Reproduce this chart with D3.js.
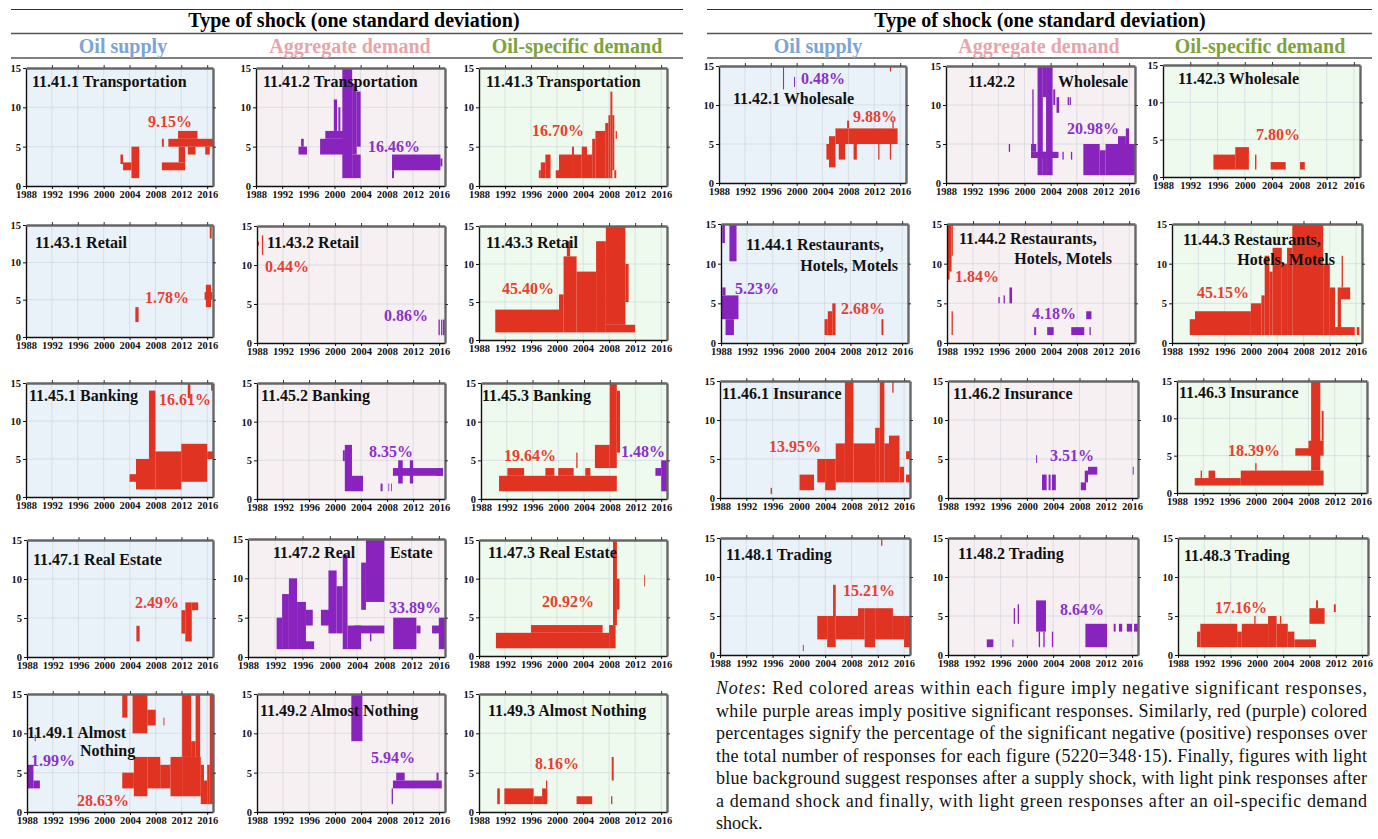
<!DOCTYPE html>
<html>
<head>
<meta charset="utf-8">
<script src="https://cdnjs.cloudflare.com/ajax/libs/d3/7.8.5/d3.min.js"></script>
<style>
  body { margin: 0; background: #fff; }
  svg { display: block; font-family: "Liberation Serif", "Times New Roman", serif; }
  .tick text { font-size: 10.5px; font-weight: bold; fill: #111; font-family: "Liberation Serif", serif; }
</style>
</head>
<body>
<svg id="chart" width="1378" height="839"></svg>
<script>
// ---- data ----
const xTicks = [1988, 1992, 1996, 2000, 2004, 2008, 2012, 2016];
const yTicks = [0, 5, 10, 15];
const shockNames = ["Oil supply", "Aggregate demand", "Oil-specific demand"];
const headerText = "Type of shock (one standard deviation)";

const panelIds = ["41.1","41.2","41.3","42.1","42.2","42.3","43.1","43.2","43.3",
                  "44.1","44.2","44.3","45.1","45.2","45.3","46.1","46.2","46.3",
                  "47.1","47.2","47.3","48.1","48.2","48.3","49.1","49.2","49.3"];
// share of significant negative / positive responses (null = no label)
const negPct = ["9.15%",null,"16.70%","9.88%",null,"7.80%","1.78%","0.44%","45.40%",
                "2.68%","1.84%","45.15%","16.61%",null,"19.64%","13.95%",null,"18.39%",
                "2.49%",null,"20.92%","15.21%",null,"17.16%","28.63%",null,"8.16%"];
const posPct = [null,"16.46%",null,"0.48%","20.98%",null,null,"0.86%",null,
                "5.23%","4.18%",null,null,"8.35%","1.48%",null,"3.51%",null,
                null,"33.89%",null,null,"8.64%",null,"1.99%","5.94%",null];

// significant areas: [fromYear, toYear, fromHorizon, toHorizon]
const neg41_1 = [[2002.6,2003.0,2.8,4],[2003.0,2004.3,2,3],[2004.3,2005.5,1,5],[2009.0,2009.3,5,6],[2009.0,2012.6,2,3],
                 [2010.0,2016.9,5,6],[2011.5,2014.5,6,7],[2011.6,2012.6,3,5],[2013.0,2014.2,4,5],[2015.7,2016.4,4,5]];
const pos41_2 = [[1994.5,1995.8,4,5],[1994.9,1995.3,5,6],[1997.8,2001.3,4,6],[1998.6,2001.3,6,7],[1999.9,2000.4,7,11],
                 [2000.6,2000.9,7,10],[2001.2,2002.7,1,15],[2002.7,2003.4,4,13],[2002.7,2004.0,1,4],[2003.4,2004.0,5,12],
                 [2008.8,2016.2,2,4],[2008.8,2009.1,1,2],[2016.2,2016.5,2.5,3.5]];
const neg41_3 = [[1997.2,1997.5,1,2],[1997.5,1998.2,1,3],[1998.2,1999.0,1,4],[1999.8,2000.3,1,2],[2000.3,2002.3,1,4],
                 [2002.3,2002.6,1,5],[2002.6,2003.8,1,4],[2003.8,2004.6,1,5],[2004.6,2005.4,1,4],[2005.4,2005.9,1,6],
                 [2005.9,2007.4,1,7],[2007.4,2007.9,1,8],[2007.9,2008.2,1,9],[2008.2,2008.5,1,12],[2008.5,2008.8,2,9],
                 [2008.8,2009.1,1,2],[2009.0,2009.2,6,7]];
const pos42_1 = [[1997.9,1998.05,12,15],[1999.6,1999.75,12.3,13.6]];
const neg42_1 = [[2014.4,2014.6,14.3,15],[2004.6,2005.0,3,5],[2005.0,2006.0,2,6],[2006.0,2008.0,5,7],[2006.5,2007.5,3,5],
                 [2007.8,2008.1,7,8],[2008.0,2015.6,5,7],[2008.8,2009.3,3,5],[2012.6,2012.8,3,5],[2014.4,2014.6,3,5],
                 [2014.8,2015.0,7,8]];
const pos42_2 = [[1997.6,1997.8,4,5],[2001.0,2001.8,4,5],[2001.2,2001.4,5,12],[2001.0,2005.2,3.2,4],[2002.0,2002.8,1,15],
                 [2002.8,2003.3,11,15],[2002.8,2003.3,1,4],[2003.3,2004.3,1,15],[2004.4,2004.7,10,12],[2004.9,2005.3,9,11],
                 [2005.8,2006.0,3,4],[2006.6,2006.8,10,11],[2006.9,2007.1,10,11],[2007.1,2007.3,3,4],[2009.0,2011.5,1,5],
                 [2011.5,2012.4,1,4.2],[2012.4,2016.9,1,5],[2014.3,2015.5,5,6],[2015.5,2016.0,5,7]];
const neg42_3 = [[1995.4,1998.6,1,3],[1998.6,2000.6,1,4],[2001.5,2001.7,1,3],[2003.8,2006.0,1,2],[2008.1,2008.8,1,2]];
const neg43_1 = [[2004.9,2005.4,2,4],[2015.8,2016.6,4,7],[2015.6,2016.8,5,6],[2016.4,2016.7,13.2,14.8]];
const neg43_2 = [[1988.15,1988.3,12.5,13],[1988.75,1988.95,11.3,13.8]];
const pos43_2 = [[2015.9,2016.1,1,3],[2016.3,2016.5,1,3],[2016.6,2016.75,1,3],[2016.8,2016.95,1,3]];
const neg43_3 = [[1990.5,2000.3,1,4],[2000.3,2001.0,1,6],[2001.0,2003.0,1,11],[2001.5,2002.0,11,13],[2003.0,2006.0,1,9],
                 [2006.0,2007.5,1,13],[2007.5,2010.5,2,15],[2007.5,2012.0,1,2],[2010.5,2011.0,5,10]];
const pos44_1 = [[1988.2,1988.6,12.6,15],[1989.3,1990.4,10.3,15],[1988.0,1990.7,3,6],[1988.2,1988.7,6,7],[1988.7,1990.0,1,3]];
const neg44_1 = [[2004.0,2004.5,1,3],[2004.5,2005.2,1,4],[2005.2,2005.7,1,5],[2012.8,2013.1,1,3]];
const neg44_2 = [[1988.0,1988.7,9,15],[1988.1,1988.4,8,9],[1988.7,1988.9,11,15],[1988.7,1988.9,1,4]];
const pos44_2 = [[1995.9,1996.1,5,5.8],[1996.7,1996.9,5,6],[1997.6,1998.0,5,7],[2001.4,2001.7,1,2],[2003.4,2004.4,1,2],
                 [2007.1,2009.1,1,2],[2009.4,2010.2,3,4],[2009.9,2010.1,1,2]];
const neg44_3 = [[1990.7,1991.5,1,3],[1991.5,2000.0,1,4],[2000.0,2001.6,1,5],[2001.6,2002.1,1,6],[2002.1,2002.8,1,11],
                 [2002.8,2003.3,1,9],[2003.3,2004.7,1,12],[2004.7,2005.5,1,10],[2005.5,2006.3,1,12],[2006.3,2011.0,1,15],
                 [2011.0,2012.0,1,10],[2012.0,2012.8,1,7],[2013.2,2013.7,1,7],[2013.7,2015.1,5.5,7],[2012.8,2015.8,1,2],
                 [2013.8,2014.0,7,11],[2016.1,2016.5,1,2]];
const neg45_1 = [[2004.0,2005.0,2,3],[2005.0,2008.0,1,5],[2007.0,2008.0,5,14],[2008.0,2012.0,1,6],[2012.0,2016.0,2,7],
                 [2013.0,2013.4,13,15],[2016.0,2016.9,5,6],[2016.6,2016.9,14,15]];
const pos45_2 = [[2001.2,2001.5,4.9,6.3],[2001.5,2002.6,1,7],[2002.6,2004.3,1,3],[2007.0,2007.3,1,2],[2008.2,2008.3,1,2],
                 [2008.6,2008.7,1,2],[2008.9,2016.6,3,4],[2009.7,2010.4,2,5],[2011.5,2012.0,2,5],[2015.6,2016.6,3,4]];
const neg45_3 = [[1990.8,2009.1,1,3],[1992.1,1994.7,3,4],[1998.0,1999.4,3,4],[2000.0,2002.4,3,4],[2002.8,2003.0,4,6],
                 [2004.2,2005.0,3,4],[2005.7,2008.0,4,7],[2008.0,2009.1,4,15],[2009.1,2009.6,6,14]];
const pos45_3 = [[2015.1,2016.0,3,4],[2016.0,2016.9,1,5]];
const neg46_1 = [[1995.7,1995.9,0.5,1.3],[2000.1,2002.3,1,3],[2002.8,2004.0,2,5],[2004.0,2005.6,1,5],[2005.6,2007.0,2,7],
                 [2007.0,2008.3,2,15],[2008.3,2011.6,2,7],[2011.6,2012.3,2,9],[2012.3,2013.0,2,15],[2013.0,2013.7,2,7],
                 [2013.7,2015.3,2,8],[2014.2,2014.4,13.5,15],[2015.3,2016.0,2,4],[2016.3,2016.9,5,6],[2016.3,2016.9,2,3]];
const pos46_2 = [[2001.4,2001.55,4.5,5.5],[2002.3,2003.0,1,3],[2003.3,2003.6,1,3],[2003.8,2004.4,1,3],[2008.2,2009.0,1,2],
                 [2008.8,2009.3,2,3.5],[2009.3,2010.7,3,4],[2016.1,2016.25,3,4]];
const neg46_3 = [[1990.7,1997.7,1,2],[1991.6,1991.8,2,3],[1992.8,1993.8,2,3],[1997.7,2010.3,1,3],[1999.9,2000.1,3,4],
                 [2006.0,2008.3,5,6],[2008.0,2010.3,5,7],[2008.4,2009.8,3,15],[2010.0,2010.3,7,11]];
const neg47_1 = [[2005.0,2005.5,2,4],[2012.0,2012.6,3,6],[2012.6,2013.6,2,7],[2013.6,2014.6,6,7]];
const pos47_2 = [[1992.2,1993.0,1,5],[1993.0,1994.0,1,8],[1994.0,1995.2,1,10],[1995.2,1996.5,1.8,7],[1995.2,1997.7,1,2],
                 [1996.5,1997.5,4,6],[1998.7,2000.0,4,6],[1999.8,2001.0,3,11],[2001.0,2001.9,3,9],[2001.9,2002.6,1,13],
                 [2002.6,2004.6,1,4],[2003.6,2008.0,3,4],[2004.6,2005.3,6,12],[2005.3,2008.0,7,15],[2005.9,2006.1,2,3],
                 [2009.3,2012.7,1,5],[2012.7,2013.3,3,4],[2015.0,2016.9,3,4],[2016.0,2016.9,1,5]];
const neg47_3 = [[1990.6,2008.0,1,3],[1996.0,2007.0,3,4],[2008.0,2009.0,1,4],[2008.6,2009.2,4,15],[2009.2,2009.6,6,10],
                 [2013.4,2013.5,9,10.5]];
const neg48_1 = [[2000.6,2000.75,0.5,1.3],[2002.8,2004.3,2,5],[2004.3,2005.6,1,5],[2005.2,2005.6,5,9],[2005.6,2009.0,2,5],
                 [2009.0,2010.0,2,6],[2010.0,2011.6,1,6],[2011.6,2014.3,2,6],[2014.3,2016.0,2,5],[2016.0,2016.9,1,5],
                 [2012.5,2012.7,14,15]];
const pos48_2 = [[1993.9,1994.9,1,2],[1997.8,1997.95,1,2],[1998.0,1998.2,4,6],[1998.6,1998.8,4,6.5],[2001.4,2002.9,3,7],
                 [2001.8,2002.0,1,3],[2002.5,2002.7,1,3],[2003.8,2004.0,1,3],[2008.9,2012.2,1,4],[2013.2,2013.5,3,4],
                 [2014.0,2014.5,3,4],[2015.2,2016.0,3,4],[2016.3,2016.9,3,4]];
const neg48_3 = [[1990.9,1991.4,1,3],[1991.4,1997.0,1,4],[1997.0,1997.7,1,3],[1997.7,2001.7,1,4],[1999.6,1999.8,4,5],
                 [2001.7,2003.0,1,5],[2003.0,2004.7,1,4],[2003.5,2003.7,4,5],[2004.7,2005.7,1,3],[2005.7,2009.0,1,2],
                 [2008.0,2010.3,4,6],[2009.0,2009.3,6,7],[2011.7,2012.0,5.5,6.5]];
const pos49_1 = [[1988.0,1989.0,3,6],[1989.0,1990.0,3,4],[1989.2,1989.35,9,9.8]];
const neg49_1 = [[2002.8,2004.6,3,5],[2002.8,2003.6,12,15],[2004.4,2006.7,10,15],[2004.6,2006.7,2,7],[2006.7,2008.0,11,13],
                 [2006.7,2008.7,3,7],[2008.7,2010.3,3,6],[2009.2,2009.35,11,12],[2010.3,2012.1,2,7],[2012.1,2015.0,2,7],
                 [2012.1,2013.5,7,15],[2013.5,2014.2,7,9],[2014.2,2014.9,7,15],[2015.0,2015.5,1,6],[2015.5,2016.0,1,4],
                 [2016.0,2016.4,1,6],[2016.4,2016.9,1,15]];
const pos49_2 = [[2002.5,2004.2,9,15],[2008.7,2008.9,1,3],[2008.9,2016.4,3,4],[2009.4,2010.7,4,5],[2015.6,2015.9,4,5]];
const neg49_3 = [[1990.8,1991.2,1,3],[1991.9,1996.4,1,3],[1996.4,1997.7,1,2],[1997.7,1998.5,1,3],[1998.3,1998.5,3,4],
                 [2003.0,2005.4,1,2],[2008.3,2008.5,1,2],[2008.4,2008.7,4,7]];

const areas = {
  "41.1": [neg41_1, []], "41.2": [[], pos41_2], "41.3": [neg41_3, []],
  "42.1": [neg42_1, pos42_1], "42.2": [[], pos42_2], "42.3": [neg42_3, []],
  "43.1": [neg43_1, []], "43.2": [neg43_2, pos43_2], "43.3": [neg43_3, []],
  "44.1": [neg44_1, pos44_1], "44.2": [neg44_2, pos44_2], "44.3": [neg44_3, []],
  "45.1": [neg45_1, []], "45.2": [[], pos45_2], "45.3": [neg45_3, pos45_3],
  "46.1": [neg46_1, []], "46.2": [[], pos46_2], "46.3": [neg46_3, []],
  "47.1": [neg47_1, []], "47.2": [[], pos47_2], "47.3": [neg47_3, []],
  "48.1": [neg48_1, []], "48.2": [[], pos48_2], "48.3": [neg48_3, []],
  "49.1": [neg49_1, pos49_1], "49.2": [[], pos49_2], "49.3": [neg49_3, []]
};

const notesLines = [
  "Red colored areas within each figure imply negative significant responses,",
  "while purple areas imply positive significant responses. Similarly, red (purple) colored",
  "percentages signify the percentage of the significant negative (positive) responses over",
  "the total number of responses for each figure (5220=348\u00b715). Finally, figures with light",
  "blue background suggest responses after a supply shock, with light pink responses after",
  "a demand shock and finally, with light green responses after an oil-specific demand",
  "shock."
];

// ---- layout ----
const shockColors = ["#7ba4d8", "#e7a5aa", "#7ea33d"];
const panelBg = ["#e9f1f9", "#f6f0f2", "#eefaee"];
const negColor = "#e13322", posColor = "#8824bd";

// box: [left, right, top, bottom]; titles: [text, x, y, anchor]; neg/pos label centre
const layout = {
  "41.1": {box:[26,213,68,186], t:[["11.41.1 Transportation",32,81]], neg:[170,121]},
  "41.2": {box:[256,445,68,186], t:[["11.41.2 Transportation",263,81]], pos:[394,146]},
  "41.3": {box:[479,667,68,186], t:[["11.41.3 Transportation",486,81]], neg:[558,130]},
  "43.1": {box:[26,213,225,337], t:[["11.43.1 Retail",35,242]], neg:[167,297]},
  "43.2": {box:[257,445,226,343], t:[["11.43.2 Retail",267,242]], neg:[287,266], pos:[406,315]},
  "43.3": {box:[479,667,226,340], t:[["11.43.3 Retail",486,242]], neg:[528,288]},
  "45.1": {box:[26,213,383,497], t:[["11.45.1 Banking",29,395]], neg:[185,399]},
  "45.2": {box:[257,445,383,499], t:[["11.45.2 Banking",261,395]], pos:[391,451]},
  "45.3": {box:[481,667,383,499], t:[["11.45.3 Banking",482,395]], neg:[530,455], pos:[643,451]},
  "47.1": {box:[27,213,540,657], t:[["11.47.1 Real Estate",33,559]], neg:[157,602]},
  "47.2": {box:[248,445,539,657], t:[["11.47.2 Real",273,552],["Estate",390,552]], pos:[415,607]},
  "47.3": {box:[479,667,540,656], t:[["11.47.3 Real Estate",488,552]], neg:[568,601]},
  "49.1": {box:[27,213,694,812], t:[["11.49.1 Almost",27,732],["Nothing",80,750]], neg:[103,800], pos:[53,760]},
  "49.2": {box:[257,445,694,812], t:[["11.49.2 Almost Nothing",260,710]], pos:[393,757]},
  "49.3": {box:[479,667,694,812], t:[["11.49.3 Almost Nothing",488,710]], neg:[557,763]},
  "42.1": {box:[719,906,66,183], t:[["11.42.1 Wholesale",733,98]], neg:[875,116], pos:[823,78]},
  "42.2": {box:[946,1135,66,183], t:[["11.42.2",968,81],["Wholesale",1058,81]], pos:[1093,128]},
  "42.3": {box:[1163,1360,65,177], t:[["11.42.3 Wholesale",1178,78]], neg:[1278,134]},
  "44.1": {box:[721,908,224,343], t:[["11.44.1 Restaurants,",746,244],["Hotels, Motels",898,265,"end"]], neg:[863,308], pos:[757,288]},
  "44.2": {box:[947,1135,224,343], t:[["11.44.2 Restaurants,",959,238],["Hotels, Motels",1112,258,"end"]], neg:[977,276], pos:[1054,313]},
  "44.3": {box:[1172,1362,224,343], t:[["11.44.3 Restaurants,",1183,239],["Hotels, Motels",1335,259,"end"]], neg:[1223,292]},
  "46.1": {box:[720,910,381,498], t:[["11.46.1 Insurance",722,393]], neg:[795,446]},
  "46.2": {box:[948,1138,381,498], t:[["11.46.2 Insurance",953,393]], pos:[1072,455]},
  "46.3": {box:[1177,1367,381,493], t:[["11.46.3 Insurance",1179,392]], neg:[1254,450]},
  "48.1": {box:[720,910,538,655], t:[["11.48.1 Trading",726,554]], neg:[869,590]},
  "48.2": {box:[948,1138,538,655], t:[["11.48.2 Trading",958,553]], pos:[1082,609]},
  "48.3": {box:[1178,1368,538,655], t:[["11.48.3 Trading",1184,555]], neg:[1241,607]}
};

const svg = d3.select("#chart");

// ---- headers ----
function drawHeader(x0, x1, cx, colX) {
  svg.append("line").attr("x1", x0).attr("x2", x1).attr("y1", 9.5).attr("y2", 9.5)
    .attr("stroke", "#333").attr("stroke-width", 1);
  svg.append("line").attr("x1", x0).attr("x2", x1).attr("y1", 33.5).attr("y2", 33.5)
    .attr("stroke", "#555").attr("stroke-width", 1.5);
  svg.append("line").attr("x1", x0).attr("x2", x1).attr("y1", 58).attr("y2", 58)
    .attr("stroke", "#555").attr("stroke-width", 1.5);
  svg.append("text").attr("x", cx).attr("y", 27).attr("text-anchor", "middle")
    .attr("font-size", 20).attr("font-weight", "bold").attr("fill", "#000")
    .text(headerText);
  shockNames.forEach(function (s, i) {
    svg.append("text").attr("x", colX[i]).attr("y", 53).attr("text-anchor", "middle")
      .attr("font-size", 20).attr("font-weight", "bold").attr("fill", shockColors[i])
      .text(s);
  });
}
drawHeader(11, 683, 354, [123, 350, 577]);
drawHeader(707, 1372, 1040, [818, 1039, 1260]);

// ---- panels ----
panelIds.forEach(function (id, i) {
  let L = layout[id];
  let shock = +id.split(".")[1] - 1;
  let b = L.box;

  let x = d3.scaleLinear().domain([1988, 2016.9]).range([b[0], b[1]]);
  let y = d3.scaleLinear().domain([0, 15]).range([b[3], b[2]]);

  let g = svg.append("g");

  g.append("rect").attr("x", b[0]).attr("y", b[2])
    .attr("width", b[1] - b[0]).attr("height", b[3] - b[2])
    .attr("fill", panelBg[shock]);

  // grid
  g.selectAll(".gx").data(xTicks.slice(1)).enter().append("line")
    .attr("x1", d => x(d)).attr("x2", d => x(d)).attr("y1", b[2]).attr("y2", b[3])
    .attr("stroke", "#cdd2da").attr("stroke-width", 0.6);
  g.selectAll(".gy").data(yTicks.slice(1, 3)).enter().append("line")
    .attr("x1", b[0]).attr("x2", b[1]).attr("y1", d => y(d)).attr("y2", d => y(d))
    .attr("stroke", "#cdd2da").attr("stroke-width", 0.6);

  // significant areas
  let sets = areas[id];
  [[sets[0], negColor], [sets[1], posColor]].forEach(function (s) {
    g.selectAll(null).data(s[0]).enter().append("rect")
      .attr("x", d => x(d[0]))
      .attr("width", d => Math.max(0.8, x(d[1]) - x(d[0])))
      .attr("y", d => y(d[3]))
      .attr("height", d => y(d[2]) - y(d[3]))
      .attr("fill", s[1]);
  });

  // axes
  let left = g.append("g").attr("transform", "translate(" + b[0] + ",0)")
    .call(d3.axisLeft(y).tickValues(yTicks).tickSize(3).tickSizeOuter(0).tickPadding(2));
  let bottom = g.append("g").attr("transform", "translate(0," + b[3] + ")")
    .call(d3.axisBottom(x).tickValues(xTicks).tickFormat(d3.format("d")).tickSize(3).tickSizeOuter(0).tickPadding(2));
  let right = g.append("g").attr("transform", "translate(" + b[1] + ",0)")
    .call(d3.axisRight(y).tickValues(yTicks.slice(1, 3)).tickFormat("").tickSize(3).tickSizeOuter(0));
  let top = g.append("g").attr("transform", "translate(0," + b[2] + ")")
    .call(d3.axisTop(x).tickValues(xTicks.slice(1)).tickFormat("").tickSize(3).tickSizeOuter(0));

  [left, bottom, right, top].forEach(a => a.attr("font-family", null).attr("font-size", null));
  [left, bottom].forEach(function (a) {
    a.select(".domain").attr("stroke", "#111").attr("stroke-width", 1.4);
    a.selectAll(".tick line").attr("stroke", "#111");
  });
  [right, top].forEach(function (a) {
    a.select(".domain").attr("stroke", "#666").attr("stroke-width", 2.4);
    a.selectAll(".tick line").attr("stroke", "#333");
  });

  // titles
  L.t.forEach(function (t) {
    g.append("text").attr("x", t[1]).attr("y", t[2] + 5.5)
      .attr("text-anchor", t[3] || "start")
      .attr("font-size", 16).attr("font-weight", "bold").attr("fill", "#111")
      .text(t[0]);
  });

  // percentages
  if (negPct[i] && L.neg) {
    g.append("text").attr("x", L.neg[0]).attr("y", L.neg[1] + 5.5).attr("text-anchor", "middle")
      .attr("font-size", 16).attr("font-weight", "bold").attr("fill", "#e8402e").text(negPct[i]);
  }
  if (posPct[i] && L.pos) {
    g.append("text").attr("x", L.pos[0]).attr("y", L.pos[1] + 5.5).attr("text-anchor", "middle")
      .attr("font-size", 16).attr("font-weight", "bold").attr("fill", "#8b30c8").text(posPct[i]);
  }
});

// ---- notes ----
notesLines.forEach(function (line, k) {
  let t = svg.append("text").attr("x", 716).attr("y", 694 + k * 22.5)
    .attr("font-size", 18).attr("fill", "#111");
  if (k === 0) {
    t.append("tspan").attr("font-style", "italic").text("Notes");
    t.append("tspan").text(": " + line);
  } else {
    t.text(line);
  }
  if (k < notesLines.length - 1) {
    t.attr("textLength", 651).attr("lengthAdjust", "spacing");
  }
});
</script>
</body>
</html>
